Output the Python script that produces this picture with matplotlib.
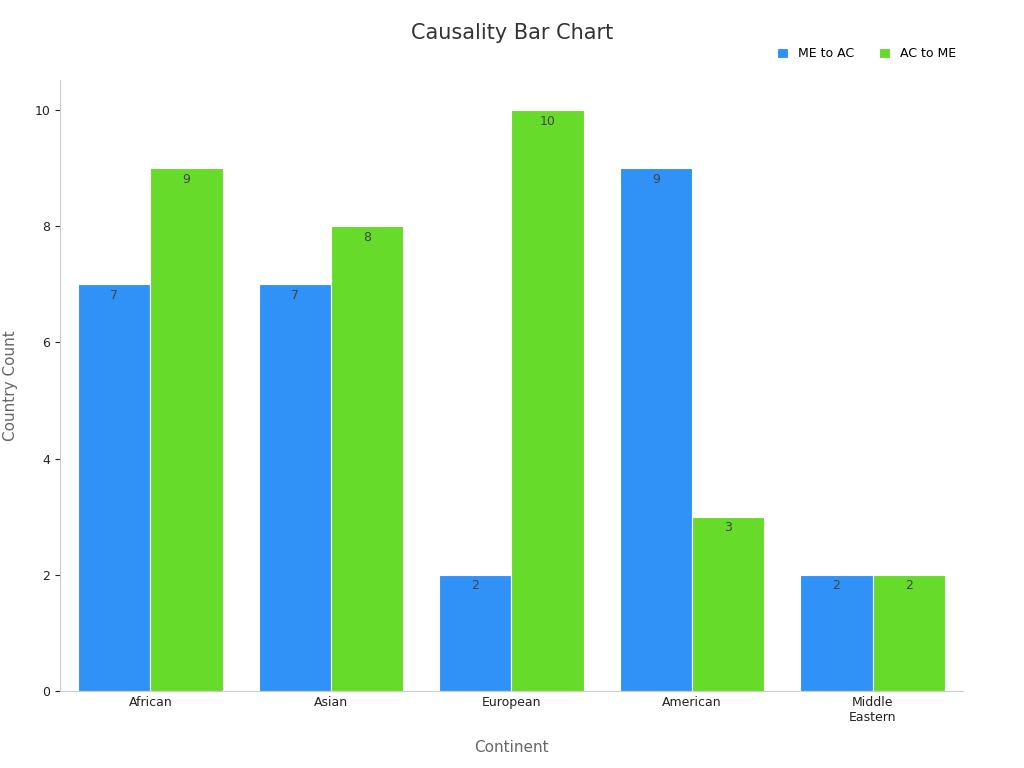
import matplotlib
matplotlib.use("Agg")
import matplotlib.pyplot as plt
import numpy as np

categories = ["African", "Asian", "European", "American", "Middle\nEastern"]
me_to_ac = [7, 7, 2, 9, 2]
ac_to_me = [9, 8, 10, 3, 2]

fig = plt.figure(figsize=(10.24, 7.68), dpi=100)
ax = fig.add_axes([0.0586, 0.1003, 0.8818, 0.7957])
x = np.arange(len(categories))
w = 0.4
b1 = ax.bar(x - w/2, me_to_ac, w, color="#3091F7", edgecolor="white", linewidth=0.8, label="ME to AC")
b2 = ax.bar(x + w/2, ac_to_me, w, color="#67DB29", edgecolor="white", linewidth=0.8, label="AC to ME")
for bars, vals in ((b1, me_to_ac), (b2, ac_to_me)):
    for r, v in zip(bars, vals):
        ax.text(r.get_x() + r.get_width()/2, v - 0.08, str(v), ha="center", va="top", fontsize=9, color="#444444")
ax.set_xlim(-0.5, 4.5)
ax.set_ylim(0, 10.52)
ax.set_xticks(x)
ax.set_xticklabels(categories, fontsize=9, color="#222222")
ax.set_yticks([0, 2, 4, 6, 8, 10])
ax.tick_params(axis="y", labelsize=9, colors="#222222")
ax.tick_params(axis="x", length=0)
for s in ("top", "right"):
    ax.spines[s].set_visible(False)
for s in ("left", "bottom"):
    ax.spines[s].set_color("#cccccc")
ax.set_xlabel("Continent", fontsize=11, color="#666666", labelpad=12)
ax.set_ylabel("Country Count", fontsize=11, color="#666666", labelpad=12)
fig.text(0.5, 0.957, "Causality Bar Chart", ha="center", va="center", fontsize=15, color="#333333")
fig.legend(handles=[b1, b2], loc="center right", bbox_to_anchor=(0.945, 0.93), ncol=2, frameon=False,
           fontsize=9, handlelength=0.9, handleheight=0.9, columnspacing=2)
fig.savefig("out.png", dpi=100)
